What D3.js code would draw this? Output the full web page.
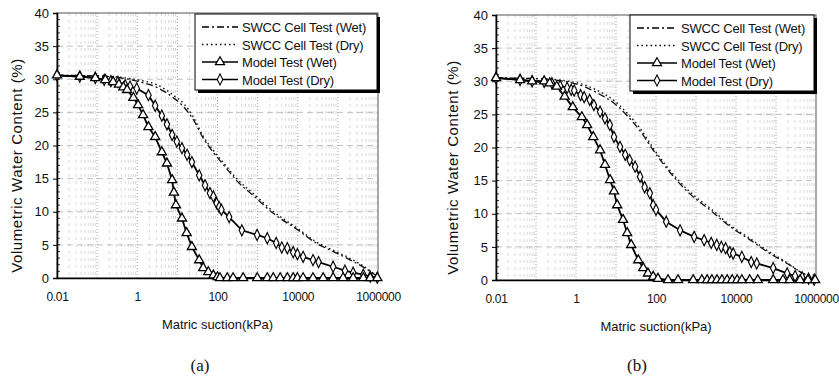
<!DOCTYPE html>
<html>
<head>
<meta charset="utf-8">
<script src="https://cdn.jsdelivr.net/npm/d3@7/dist/d3.min.js"></script>
<style>
  body { margin: 0; background: #fff; }
  svg text { font-family: "Liberation Sans", Arial, sans-serif; fill: #111; }
</style>
</head>
<body>
<div id="chart"></div>
<script>
// tick values and labels
var xTicks = [0.01, 1, 100, 10000, 1000000];
var xTickLabels = ["0.01", "1", "100", "10000", "1000000"];
var yTicks = [0, 5, 10, 15, 20, 25, 30, 35, 40];
var legendLabels = ["SWCC Cell Test (Wet)", "SWCC Cell Test (Dry)", "Model Test (Wet)", "Model Test (Dry)"];

// panel (a) : [suction kPa, volumetric water content %]
var aSwccWet = [[0.01,30.6],[0.1,30.5],[0.5,30.1],[1,29.7],[3,28.8],[8,27.2],[15,25.7],[25,23.9],[44,21.1],[80,18.9],[150,16.9],[300,14.7],[800,12.4],[2400,9.8],[9800,7.3],[30000,5.2],[90000,3.8],[240000,2.5],[600000,1.1],[1000000,0.1]];
var aSwccDry = [[0.01,30.6],[0.1,30.5],[0.5,30.2],[1,29.9],[3,29.2],[8,27.6],[15,26.2],[25,24.3],[44,21.4],[80,19.2],[150,17.2],[300,15.0],[800,12.7],[2400,10.1],[9800,7.5],[30000,5.4],[90000,4.0],[240000,2.7],[600000,1.2],[1000000,0.1]];
var aModelWet = [[0.01,30.6],[0.037,30.4],[0.09,30.2],[0.16,29.9],[0.25,29.6],[0.35,29.2],[0.45,28.8],[0.56,28.4],[0.8,27.2],[1.05,26.1],[1.4,24.6],[1.9,22.8],[2.8,21.3],[4.1,19.0],[5.5,17.3],[7.4,14.8],[8.2,12.9],[9.2,11.0],[13,9.0],[17,6.8],[23,4.7],[35,2.7],[44,1.5],[59,0.9],[79,0.4],[100,0.15],[115,0],[175,0],[245,0],[435,0],[980,0],[1740,0],[2450,0],[3650,0],[5500,0],[7700,0],[9800,0],[13600,0],[24000,0],[43000,0],[76000,0],[135000,0],[240000,0],[430000,0],[640000,0],[960000,0]];
var aModelDry = [[0.01,30.6],[0.037,30.4],[0.09,30.2],[0.15,29.9],[0.22,29.7],[0.33,29.6],[0.5,29.1],[0.66,28.9],[0.97,28.6],[1.9,27.6],[2.8,26.0],[4.1,24.5],[5.5,23.2],[7.4,21.6],[9.7,20.6],[13,19.6],[17.5,18.6],[23,17.5],[35,15.5],[49,14.0],[65,12.8],[79,12.3],[95,11.3],[110,10.7],[125,10.3],[195,9.2],[405,7.2],[970,6.5],[1740,6.0],[2900,5.3],[4000,4.6],[5500,4.5],[7700,3.9],[9800,3.6],[13600,3.2],[24000,2.7],[33000,2.4],[76000,1.7],[150000,1.1],[240000,0.8],[430000,0.5],[640000,0.2],[960000,0.05]];

// panel (b)
var bSwccWet = [[0.01,30.5],[0.1,30.4],[0.5,30.0],[1,29.6],[1.9,29.0],[4,28.0],[8.5,26.8],[19,24.8],[40,22.5],[85,19.6],[220,16.3],[700,13.0],[2200,10.6],[7000,8.1],[22000,6.1],[70000,4.0],[190000,2.5],[470000,1.0],[1000000,0.1]];
var bSwccDry = [[0.01,30.5],[0.1,30.4],[0.5,30.1],[1,29.8],[1.9,29.3],[4,28.4],[8.5,27.2],[19,25.2],[40,22.9],[85,19.9],[220,16.6],[700,13.3],[2200,10.9],[7000,8.3],[22000,6.3],[70000,4.2],[190000,2.6],[470000,1.0],[1000000,0.1]];
var bModelWet = [[0.01,30.5],[0.04,30.2],[0.08,30.0],[0.16,30.0],[0.22,29.7],[0.33,29.2],[0.52,27.7],[0.83,26.1],[1.4,24.6],[1.9,23.4],[2.7,21.6],[4,19.6],[5.3,17.4],[7.1,15.1],[8.9,13.4],[10.7,11.3],[15,9.1],[19,7.1],[24,5.3],[36,3.0],[48,1.8],[63,1.0],[85,0.5],[112,0.2],[200,0],[355,0],[850,0],[1400,0],[1900,0],[2500,0],[3350,0],[4450,0],[6000,0],[8000,0],[10700,0],[14000,0],[22000,0],[35000,0],[85000,0],[150000,0],[220000,0],[400000,0],[630000,0],[950000,0]];
var bModelDry = [[0.01,30.5],[0.04,30.2],[0.08,30.0],[0.16,29.9],[0.25,29.7],[0.4,29.3],[0.6,29.0],[0.76,28.7],[0.9,28.6],[1.3,27.9],[1.6,27.6],[2.2,27.2],[2.8,26.4],[4,25.4],[5.3,24.4],[7,23.4],[8.9,21.6],[12.6,20.1],[17,18.9],[22,18.1],[30,17.1],[40,15.6],[52,14.0],[70,13.1],[85,11.3],[100,10.6],[180,8.8],[400,7.5],[900,6.5],[1600,6.0],[2400,5.6],[3300,5.3],[4300,5.0],[5500,4.8],[7000,4.2],[8500,4.0],[14000,3.5],[24000,2.7],[33000,2.5],[85000,1.8],[190000,1.0],[300000,0.6],[450000,0.4],[650000,0.2],[900000,0.05]];

var svg = d3.select("#chart").append("svg")
    .attr("width", 839)
    .attr("height", 377);

function drawPanel(o) {
  var g = svg.append("g");
  var x = d3.scaleLog().domain([0.01, 1000000]).range([o.left, o.right]);
  var y = d3.scaleLinear().domain([0, 40]).range([o.bottom, o.top]);

  g.append("rect")
      .attr("x", o.left).attr("y", o.top)
      .attr("width", o.right - o.left).attr("height", o.bottom - o.top)
      .attr("fill", "#fff");

  // vertical grid, minor then major
  var minor = [];
  for (var e = -2; e < 6; e++) {
    for (var m = 2; m <= 9; m++) minor.push(m * Math.pow(10, e));
  }
  g.selectAll(".vmin").data(minor).enter().append("line")
      .attr("x1", function(d) { return x(d); }).attr("x2", function(d) { return x(d); })
      .attr("y1", o.top).attr("y2", o.bottom)
      .attr("stroke", "#cfcfcf").attr("stroke-width", 0.8)
      .attr("stroke-dasharray", "3,4");
  var decades = [0.1, 1, 10, 100, 1000, 10000, 100000];
  g.selectAll(".vmaj").data(decades).enter().append("line")
      .attr("x1", function(d) { return x(d); }).attr("x2", function(d) { return x(d); })
      .attr("y1", o.top).attr("y2", o.bottom)
      .attr("stroke", "#999").attr("stroke-width", 0.9)
      .attr("stroke-dasharray", "1,2");

  // horizontal grid
  g.selectAll(".hg").data(yTicks.slice(1, 8)).enter().append("line")
      .attr("x1", o.left).attr("x2", o.right)
      .attr("y1", function(d) { return y(d); }).attr("y2", function(d) { return y(d); })
      .attr("stroke", "#b0b0b0").attr("stroke-width", 0.8)
      .attr("stroke-dasharray", "6,4");

  // border
  g.append("rect")
      .attr("x", o.left).attr("y", o.top)
      .attr("width", o.right - o.left).attr("height", o.bottom - o.top)
      .attr("fill", "none").attr("stroke", "#555").attr("stroke-width", 1);

  // axes
  var yAxis = d3.axisLeft(y).tickValues(yTicks).tickSize(4).tickPadding(4);
  var ya = g.append("g").attr("transform", "translate(" + o.left + ",0)").call(yAxis);
  ya.select(".domain").attr("stroke", "#000").attr("stroke-width", 1.6);
  ya.selectAll("text").attr("font-size", 13).style("font-family", "Liberation Sans, Arial, sans-serif");
  // minor ticks inward
  g.selectAll(".ymin").data(d3.range(1, 40)).enter().append("line")
      .attr("x1", o.left).attr("x2", o.left + 3)
      .attr("y1", function(d) { return y(d); }).attr("y2", function(d) { return y(d); })
      .attr("stroke", "#000").attr("stroke-width", 0.8);

  var xAxis = d3.axisBottom(x).tickValues(xTicks)
      .tickFormat(function(d, i) { return xTickLabels[i]; })
      .tickSize(0).tickPadding(14);
  var xa = g.append("g").attr("transform", "translate(0," + o.bottom + ")").call(xAxis);
  xa.select(".domain").attr("stroke", "#000").attr("stroke-width", 1.6);
  xa.selectAll("text").attr("font-size", 12).attr("letter-spacing", -0.3)
      .style("font-family", "Liberation Sans, Arial, sans-serif");

  // curves
  var line = d3.line()
      .x(function(d) { return x(d[0]); })
      .y(function(d) { return y(d[1]); });
  var smooth = d3.line()
      .x(function(d) { return x(d[0]); })
      .y(function(d) { return y(d[1]); })
      .curve(d3.curveMonotoneX);

  g.append("path").datum(o.swccDry).attr("d", smooth)
      .attr("fill", "none").attr("stroke", "#111").attr("stroke-width", 1.4)
      .attr("stroke-dasharray", "1.5,3");
  g.append("path").datum(o.swccWet).attr("d", smooth)
      .attr("fill", "none").attr("stroke", "#111").attr("stroke-width", 1.3)
      .attr("stroke-dasharray", "7,3,2,3");

  g.append("path").datum(o.modelDry).attr("d", line)
      .attr("fill", "none").attr("stroke", "#000").attr("stroke-width", 1.8);
  g.append("path").datum(o.modelWet).attr("d", line)
      .attr("fill", "none").attr("stroke", "#000").attr("stroke-width", 1.8);

  var tri = d3.symbol().type(d3.symbolTriangle).size(36);
  var dia = d3.symbol().type(d3.symbolDiamond).size(36);
  g.selectAll(".dm").data(o.modelDry).enter().append("path")
      .attr("d", dia)
      .attr("transform", function(d) { return "translate(" + x(d[0]) + "," + y(d[1]) + ") scale(0.85,1)"; })
      .attr("fill", "#fff").attr("stroke", "#000").attr("stroke-width", 1.3);
  g.selectAll(".tm").data(o.modelWet).enter().append("path")
      .attr("d", tri)
      .attr("transform", function(d) { return "translate(" + x(d[0]) + "," + y(d[1]) + ")"; })
      .attr("fill", "#fff").attr("stroke", "#000").attr("stroke-width", 1.3);

  // axis titles
  g.append("text")
      .attr("transform", "translate(" + o.ytx + "," + ((o.top + o.bottom) / 2 + 20) + ") rotate(-90)")
      .attr("text-anchor", "middle").attr("font-size", 15)
      .attr("letter-spacing", 0.6)
      .text("Volumetric Water Content (%)");
  g.append("text")
      .attr("x", (o.left + o.right) / 2).attr("y", o.bottom + 51)
      .attr("text-anchor", "middle").attr("font-size", 13)
      .text("Matric suction(kPa)");
  g.append("text")
      .attr("x", o.capx).attr("y", 371)
      .attr("text-anchor", "middle").attr("font-size", 17)
      .style("font-family", "Liberation Serif, serif")
      .text(o.caption);

  // legend
  var lg = g.append("g").attr("transform", "translate(" + o.lx + "," + o.ly + ")");
  lg.append("rect").attr("x", 3).attr("y", 3).attr("width", o.lw).attr("height", 76).attr("fill", "#000");
  lg.append("rect").attr("x", 0).attr("y", 0).attr("width", o.lw).attr("height", 76)
      .attr("fill", "#fff").attr("stroke", "#000").attr("stroke-width", 1);
  var styles = [
    { dash: "7,3,2,3", mark: null },
    { dash: "1.5,3", mark: null },
    { dash: null, mark: "tri" },
    { dash: null, mark: "dia" }
  ];
  legendLabels.forEach(function(lab, i) {
    var yy = 13 + i * 17.5;
    var ln = lg.append("line").attr("x1", 7).attr("x2", 7 + o.sw).attr("y1", yy).attr("y2", yy)
        .attr("stroke", "#000").attr("stroke-width", styles[i].dash ? 1.3 : 1.6);
    if (styles[i].dash) ln.attr("stroke-dasharray", styles[i].dash);
    if (styles[i].mark) {
      lg.append("path").attr("d", styles[i].mark == "tri" ? tri : dia)
          .attr("transform", "translate(" + (7 + o.sw / 2) + "," + yy + ")" + (styles[i].mark == "dia" ? " scale(0.85,1)" : ""))
          .attr("fill", "#fff").attr("stroke", "#000").attr("stroke-width", 1.2);
    }
    lg.append("text").attr("x", 11 + o.sw).attr("y", yy + 5)
        .attr("font-size", 13).attr("letter-spacing", -0.2).text(lab);
  });
}

drawPanel({
  left: 57, right: 378, top: 13, bottom: 278,
  swccWet: aSwccWet, swccDry: aSwccDry, modelWet: aModelWet, modelDry: aModelDry,
  ytx: 22, capx: 200, caption: "(a)",
  lx: 195, ly: 14, lw: 182, sw: 36
});
drawPanel({
  left: 496, right: 816, top: 15, bottom: 280,
  swccWet: bSwccWet, swccDry: bSwccDry, modelWet: bModelWet, modelDry: bModelDry,
  ytx: 458, capx: 637, caption: "(b)",
  lx: 630, ly: 15, lw: 184, sw: 40
});
</script>
</body>
</html>
